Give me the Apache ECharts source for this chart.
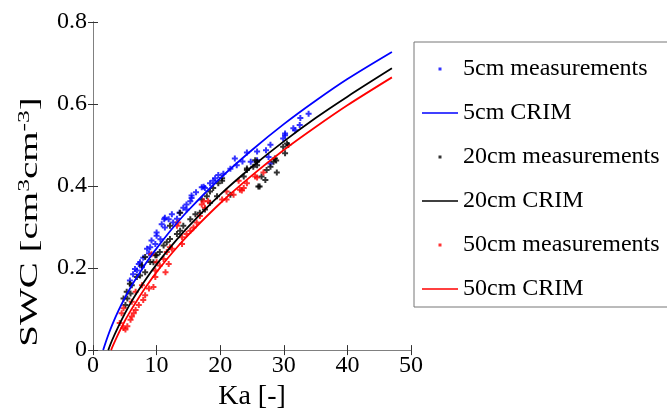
<!DOCTYPE html>
<html lang="en">
<head>
    <meta charset="UTF-8">
    <title>SWC vs Ka</title>
    <script src="https://cdn.jsdelivr.net/npm/echarts@6/dist/echarts.min.js"></script>
    <style>
        * { margin: 0; padding: 0; }
        body { background: #fff; }
        #chart { width: 667px; height: 416px; }
    </style>
</head>
<body>
    <div id="chart"></div>
    <script>
        const meas5cm = [
            [5.8,0.17],[6.3,0.185],[6.6,0.198],[6.9,0.194],[7.2,0.21],[7.4,0.214],[7.7,0.202],[7.9,0.225],
            [8.5,0.247],[8.8,0.236],[9.0,0.251],[9.2,0.267],[9.8,0.259],[10.0,0.279],[10.0,0.287],[10.6,0.27],
            [10.8,0.307],[11.2,0.319],[11.3,0.299],[11.3,0.323],[11.9,0.319],[12.4,0.331],[12.6,0.311],[13.2,0.32],
            [13.6,0.335],[14.2,0.347],[14.7,0.343],[14.7,0.355],[15.3,0.363],[15.5,0.371],[15.5,0.377],[16.2,0.385],
            [17.1,0.397],[17.4,0.398],[17.6,0.395],[18.4,0.407],[18.9,0.413],[19.2,0.419],[19.7,0.427],[20.5,0.43],
            [21.6,0.442],[22.3,0.467],[22.6,0.451],[23.5,0.46],[24.2,0.482],[24.8,0.459],[25.8,0.463],[25.8,0.484],
            [27.2,0.487],[27.6,0.471],[27.9,0.455],[27.9,0.501],[29.9,0.516],[30.2,0.524],[30.2,0.528],[31.5,0.541],
            [31.8,0.536],[32.5,0.549],[32.6,0.566],[33.9,0.576]
        ];
        const meas20cm = [
            [4.8,0.126],[5.1,0.11],[5.3,0.142],[5.4,0.126],[5.8,0.162],[5.9,0.138],[6.1,0.158],[6.9,0.178],
            [7.4,0.182],[7.7,0.206],[8.2,0.19],[8.2,0.227],[9.0,0.215],[9.5,0.214],[9.8,0.231],[10.0,0.231],
            [10.5,0.239],[11.1,0.255],[11.6,0.263],[12.1,0.271],[12.1,0.303],[13.2,0.283],[13.7,0.291],[13.7,0.335],
            [14.2,0.303],[15.3,0.319],[16.1,0.331],[16.8,0.335],[17.1,0.367],[17.6,0.343],[17.9,0.375],[18.4,0.359],
            [18.4,0.387],[18.9,0.395],[19.5,0.375],[19.7,0.407],[20.3,0.413],[20.3,0.419],[21.6,0.379],[23.7,0.423],
            [24.2,0.439],[24.2,0.443],[25.2,0.447],[25.5,0.463],[25.8,0.451],[25.8,0.459],[26.0,0.399],[26.2,0.399],
            [26.5,0.423],[27.1,0.415],[27.3,0.439],[27.9,0.447],[28.4,0.459],[28.6,0.467],[28.8,0.462],[28.9,0.433],
            [29.9,0.496],[30.2,0.48],[30.5,0.504],[30.7,0.5]
        ];
        const meas50cm = [
            [4.2,0.066],[4.5,0.09],[4.8,0.054],[4.8,0.102],[5.1,0.05],[5.4,0.058],[5.9,0.074],[6.1,0.082],
            [6.1,0.118],[6.4,0.09],[6.7,0.098],[6.7,0.142],[7.2,0.11],[7.7,0.158],[7.9,0.122],[8.2,0.134],
            [8.8,0.15],[9.2,0.234],[9.5,0.154],[9.8,0.178],[9.8,0.194],[10.0,0.214],[10.5,0.206],[11.1,0.222],
            [11.4,0.19],[11.6,0.239],[11.9,0.21],[12.1,0.251],[12.4,0.247],[13.2,0.303],[13.4,0.311],[14.0,0.259],
            [14.0,0.275],[14.7,0.283],[15.3,0.291],[15.8,0.299],[16.3,0.311],[16.8,0.327],[17.1,0.355],[17.4,0.363],
            [17.6,0.347],[18.1,0.363],[20.3,0.367],[21.0,0.367],[21.0,0.387],[22.1,0.379],[22.9,0.413],[23.1,0.391],
            [23.4,0.389],[23.7,0.395],[24.2,0.407],[25.5,0.423],[25.8,0.421],[26.8,0.433]
        ];

        // CRIM curves
        const crimKa5 = [1.6, 2, 2.5, 3, 4, 5, 6, 7, 8.5, 10, 12.5, 15, 20, 25, 30, 35, 40, 47];
        const crim5 = [0, 0.019, 0.041, 0.061, 0.096, 0.127, 0.155, 0.180, 0.216, 0.248, 0.297, 0.341, 0.419, 0.488, 0.551, 0.608, 0.661, 0.727];
        const crimKa20 = [2.4, 3, 4, 5, 6, 7, 8.5, 10, 12.5, 15, 20, 25, 30, 35, 40, 47];
        const crim20 = [0, 0.024, 0.058, 0.089, 0.117, 0.142, 0.177, 0.209, 0.257, 0.301, 0.379, 0.447, 0.509, 0.566, 0.618, 0.687];
        const crimKa50 = [2.85, 3, 4, 5, 6, 7, 8.5, 10, 12.5, 15, 20, 25, 30, 35, 40, 47];
        const crim50 = [0, 0.006, 0.040, 0.071, 0.098, 0.123, 0.158, 0.190, 0.238, 0.281, 0.358, 0.426, 0.488, 0.544, 0.597, 0.665];

        const legendNames = ['5cm measurements', '5cm CRIM', '20cm measurements', '20cm CRIM', '50cm measurements', '50cm CRIM'];

        const serif = 'Liberation Serif';
        const plusMark = 'path://M1 0h1v1h1v1h-1v1h-1v-1h-1v-1h1z';
        // legend icons span the whole 36x24 item box, only the small part inside is filled
        const dotIcon = 'path://M0 0L0 0M36 24L36 24M16.5 10.5h3v3h-3z';
        const lineIcon = 'path://M0 0L0 0M36 24L36 24M0 11.2h36v1.6h-36z';

        function zip(xs, ys) {
            return xs.map(function (x, i) { return [x, ys[i]]; });
        }

        function measSeries(name, data, color) {
            return {
                name: name, type: 'scatter', data: data,
                symbol: plusMark, symbolSize: 6,
                itemStyle: { color: color },
                silent: true
            };
        }

        function crimSeries(name, data, color) {
            return {
                name: name, type: 'line', data: data,
                showSymbol: false, symbol: 'none', smooth: 0.3,
                lineStyle: { color: color, width: 1.8 },
                itemStyle: { color: color },
                silent: true
            };
        }

        const axisCommon = {
            axisLine: { show: true, lineStyle: { color: '#808080', width: 1 } },
            axisTick: { show: true, inside: true, length: 5, lineStyle: { color: '#333' } },
            splitLine: { show: false }
        };

        const chart = echarts.init(document.getElementById('chart'));
        chart.setOption({
            animation: false,
            grid: { left: 93, right: 256, top: 22, bottom: 62 },
            xAxis: [
                Object.assign({
                    type: 'value', min: 0, max: 50, interval: 10, position: 'bottom',
                    name: 'Ka [-]', nameLocation: 'middle', nameGap: 30,
                    nameTextStyle: { fontFamily: serif, fontSize: 28, color: '#000' },
                    axisLabel: { fontFamily: serif, fontSize: 24, color: '#000', margin: 4 }
                }, axisCommon),
                Object.assign({
                    type: 'value', min: 0, max: 50, interval: 10, position: 'top',
                    axisLabel: { show: false }
                }, axisCommon)
            ],
            yAxis: [
                Object.assign({
                    type: 'value', min: 0, max: 0.8, interval: 0.2, position: 'left',
                    axisLabel: {
                        fontFamily: serif, fontSize: 24, color: '#000', margin: 6,
                        formatter: function (v) { return v === 0 ? '0' : v.toFixed(1); }
                    }
                }, axisCommon),
                Object.assign({
                    type: 'value', min: 0, max: 0.8, interval: 0.2, position: 'right',
                    axisLabel: { show: false }
                }, axisCommon)
            ],
            legend: {
                orient: 'vertical',
                left: 414, top: 42,
                padding: [15, 300, 6, 8],
                itemWidth: 36, itemHeight: 24, itemGap: 20,
                borderColor: '#777', borderWidth: 1,
                selectedMode: false,
                textStyle: { fontFamily: serif, fontSize: 24, color: '#000', lineHeight: 24 },
                data: legendNames.map(function (n, i) {
                    return { name: n, icon: i % 2 === 0 ? dotIcon : lineIcon };
                })
            },
            graphic: [{
                type: 'text',
                x: 30, y: 222, rotation: Math.PI / 2,
                scaleX: 1.5,
                style: {
                    text: 'SWC [cm{sup|3}cm{sup|-3}]',
                    fontFamily: serif, fontSize: 26, fill: '#000',
                    align: 'center', verticalAlign: 'middle',
                    rich: {
                        sup: { fontFamily: serif, fontSize: 17, verticalAlign: 'top', padding: [0, 0, 11, 0] }
                    }
                }
            }],
            series: [
                measSeries(legendNames[0], meas5cm, '#0000ff'),
                crimSeries(legendNames[1], zip(crimKa5, crim5), '#0000ff'),
                measSeries(legendNames[2], meas20cm, '#000000'),
                crimSeries(legendNames[3], zip(crimKa20, crim20), '#000000'),
                measSeries(legendNames[4], meas50cm, '#ff0000'),
                crimSeries(legendNames[5], zip(crimKa50, crim50), '#ff0000')
            ]
        });
    </script>
</body>
</html>
